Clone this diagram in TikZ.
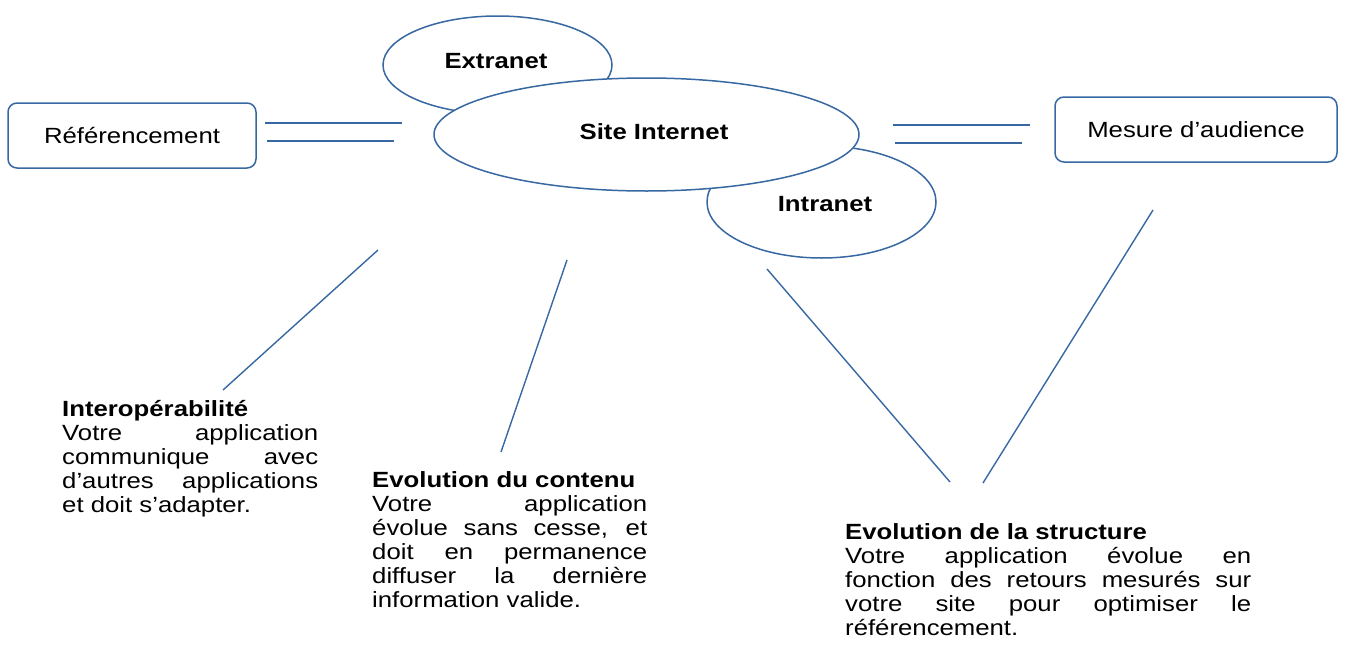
\documentclass[tikz,border=0pt]{standalone}
\usepackage{fontspec}
\setmainfont{Liberation Sans}[FakeStretch=1.17]
\usetikzlibrary{shapes.geometric}
\definecolor{lineblue}{RGB}{56,104,162}
\tikzset{
  bubble/.style={ellipse, draw=lineblue, line width=1.5pt, fill=white, inner sep=0pt},
  roundbox/.style={rectangle, rounded corners=9pt, draw=lineblue, line width=1.5pt, inner sep=0pt, font=\fontsize{22}{24}\selectfont},
  conn/.style={draw=lineblue, line width=1.4pt},
  lbl/.style={inner sep=0pt, font=\fontsize{22}{24}\selectfont\bfseries},
  txt/.style={inner sep=0pt, anchor=base west, font=\fontsize{22}{24}\selectfont},
  ttl/.style={txt, font=\fontsize{22}{24}\selectfont\bfseries}
}
\begin{document}
\begin{tikzpicture}[x=1pt,y=-1pt]
\useasboundingbox (0,0) rectangle (1345,659);
% ellipses
\node[bubble, minimum width=229pt, minimum height=98pt] (extra) at (497.5,65) {};
\node[bubble, minimum width=229pt, minimum height=112pt] (intra) at (821.5,202) {};
\node[bubble, minimum width=425pt, minimum height=113pt] (site) at (646.5,134.5) {};
\node[lbl] (extrat) at (496,61) {Extranet};
\node[lbl] (intrat) at (825,204) {Intranet};
\node[lbl] (sitet) at (654,132) {Site Internet};
% boxes
\node[roundbox, minimum width=248pt, minimum height=65pt] (ref) at (132,135.5) {Référencement};
\node[roundbox, minimum width=282pt, minimum height=65pt] (mes) at (1196,129.5) {Mesure d’audience};
% double lines
\coordinate (la1) at (265,123); \coordinate (lb1) at (402,123);
\coordinate (la2) at (267,141); \coordinate (lb2) at (394,141);
\coordinate (ra1) at (893,125); \coordinate (rb1) at (1030,125);
\coordinate (ra2) at (895,143); \coordinate (rb2) at (1022,143);
\draw[conn] (la1) -- (lb1);
\draw[conn] (la2) -- (lb2);
\draw[conn] (ra1) -- (rb1);
\draw[conn] (ra2) -- (rb2);
% diagonal lines
\coordinate (d1a) at (378,250); \coordinate (d1b) at (223,390);
\coordinate (d2a) at (567,260); \coordinate (d2b) at (501,452);
\coordinate (d3a) at (767,269); \coordinate (d3b) at (950,482);
\coordinate (d4a) at (1153,210); \coordinate (d4b) at (983,483);
\draw[conn] (d1a) -- (d1b);
\draw[conn] (d2a) -- (d2b);
\draw[conn] (d3a) -- (d3b);
\draw[conn] (d4a) -- (d4b);
% text block 1
\node[ttl] (i0) at (62,416) {Interopérabilité};
\node[txt] (i1) at (62,440) {\makebox[256pt][s]{Votre application}};
\node[txt] (i2) at (62,464) {\makebox[256pt][s]{communique avec}};
\node[txt] (i3) at (62,488) {\makebox[256pt][s]{d’autres applications}};
\node[txt] (i4) at (62,512) {et doit s’adapter.};
% text block 2
\node[ttl] (c0) at (372,487) {Evolution du contenu};
\node[txt] (c1) at (372,511) {\makebox[275pt][s]{Votre application}};
\node[txt] (c2) at (372,535) {\makebox[275pt][s]{évolue sans cesse, et}};
\node[txt] (c3) at (372,559) {\makebox[275pt][s]{doit en permanence}};
\node[txt] (c4) at (372,583) {\makebox[275pt][s]{diffuser la dernière}};
\node[txt] (c5) at (372,607) {information valide.};
% text block 3
\node[ttl] (s0) at (845,539) {Evolution de la structure};
\node[txt] (s1) at (845,563) {\makebox[406pt][s]{Votre application évolue en}};
\node[txt] (s2) at (845,587) {\makebox[406pt][s]{fonction des retours mesurés sur}};
\node[txt] (s3) at (845,611) {\makebox[406pt][s]{votre site pour optimiser le}};
\node[txt] (s4) at (845,635) {référencement.};
\end{tikzpicture}
\end{document}
